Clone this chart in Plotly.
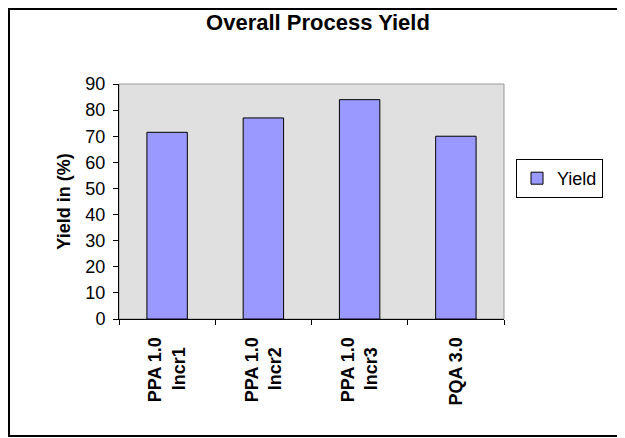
import plotly.graph_objects as go

categories = ["PPA 1.0<br>Incr1", "PPA 1.0<br>Incr2", "PPA 1.0<br>Incr3", "PQA 3.0"]
tick_labels = ["PPA 1.0<br>Incr1\u00a0\u00a0", "PPA 1.0<br>Incr2\u00a0\u00a0",
               "PPA 1.0<br>Incr3\u00a0\u00a0", "PQA 3.0"]
yield_values = [71.5, 77, 84, 70]
y_ticks = [0, 10, 20, 30, 40, 50, 60, 70, 80, 90]

FONT = "Liberation Sans, Arial, sans-serif"
OFF = 8  # page body margin

W, H = 617, 430
# plot area in screen pixels
SL, SR, ST, SB = 119, 504, 84, 319
L, T = SL - OFF, ST - OFF
R, B = W - (SR - OFF), H - (SB - OFF)
pw, ph = W - L - R, H - T - B

def sx(px):
    return (px - SL) / pw

def sy(py):
    return 1 - (py - ST) / ph

fig = go.Figure()
fig.add_trace(go.Bar(
    x=categories, y=yield_values, name="Yield",
    marker=dict(color="#9999FF", line=dict(color="black", width=1)),
    showlegend=True,
))

fig.update_layout(
    width=W, height=H,
    margin=dict(l=L, r=R, t=T, b=B),
    paper_bgcolor="white",
    plot_bgcolor="#E0E0E0",
    font=dict(family=FONT, color="black", size=18),
    bargap=0.58,
    title=dict(text="<b>Overall Process Yield</b>", x=sx(318), xanchor="center", xref="paper",
               y=1 - 14 / H, yanchor="middle", font=dict(size=22, family=FONT)),
    legend=dict(x=sx(516), y=sy(159), xanchor="left", yanchor="top",
                bordercolor="black", borderwidth=1, bgcolor="white",
                font=dict(size=18, family=FONT), itemwidth=30),
    shapes=[
        dict(type="rect", xref="paper", yref="paper", x0=0, x1=1, y0=0, y1=1,
             line=dict(color="#999999", width=1), layer="below"),
        dict(type="rect", xref="paper", yref="paper",
             x0=sx(OFF + 1), x1=sx(622), y0=sy(436), y1=sy(OFF + 1),
             line=dict(color="black", width=2)),
    ],
)

fig.update_xaxes(
    showline=True, linecolor="black", linewidth=1,
    ticks="outside", ticklen=5, tickcolor="black", tickson="boundaries",
    tickangle=-90, tickfont=dict(size=18, family=FONT),
    ticklabelstandoff=10,
    showgrid=False,
    tickvals=categories, ticktext=["<b>" + t + "</b>" for t in tick_labels],
)
fig.update_yaxes(
    range=[0, 90], tickvals=y_ticks,
    showline=True, linecolor="black", linewidth=1,
    ticks="outside", ticklen=5, tickcolor="black",
    showgrid=False, zeroline=False,
    tickfont=dict(size=18, family=FONT),
    ticklabelstandoff=4,
    title=dict(text="<b>Yield in (%)</b>", font=dict(size=18, family=FONT), standoff=10),
)

fig.write_html("out.html")
